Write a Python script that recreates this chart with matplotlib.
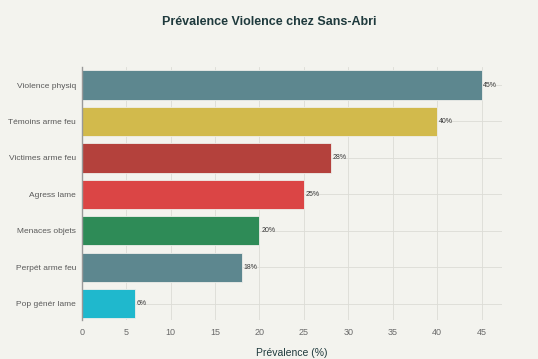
import numpy as np
import matplotlib.pyplot as plt

# Données ======================================================================
categories = ["Violence physiq", "Témoins arme feu", "Victimes arme feu",
              "Agress lame", "Menaces objets", "Perpét arme feu", "Pop génér lame"]
valeurs = [45, 40, 28, 25, 20, 18, 6]
couleurs = ["#5d878f", "#d2ba4c", "#b4413c", "#db4545", "#2e8b57", "#5d878f", "#1fb8cd"]

plt.rcParams['font.family'] = ['Liberation Sans', 'DejaVu Sans']
fond = "#f3f3ee"

fig = plt.figure(figsize=(5.38, 3.59), dpi=100, facecolor=fond)
ax = fig.add_axes([0.152, 0.109, 0.781, 0.704], facecolor=fond)

y = np.arange(len(categories))
ax.barh(y, valeurs, height=0.8, color=couleurs, edgecolor="#eeeeea", linewidth=0.6, zorder=3)
for yi, v in zip(y, valeurs):
    ax.text(v + 0.2, yi, f"{v}%", va="center", ha="left", fontsize=5, color="#3a3a3a", zorder=4)

ax.set_yticks(y)
ax.set_yticklabels(categories)
ax.set_ylim(len(categories) - 0.56, -0.49)
ax.set_xlim(0, 47.3)
ax.set_xticks(np.arange(0, 50, 5))

ax.grid(True, color="#dcdcd6", linewidth=0.6, zorder=0)
for s in ["top", "right", "bottom"]:
    ax.spines[s].set_visible(False)
ax.spines["left"].set_color("#999999")
ax.spines["left"].set_linewidth(1.0)
ax.spines["left"].set_zorder(5)
ax.tick_params(axis="y", length=0, labelsize=6, labelcolor="#5a5a5a", pad=4)
ax.tick_params(axis="x", length=0, labelsize=6.5, labelcolor="#6a6a6a", pad=6)

ax.set_xlabel("Prévalence (%)", fontsize=7.5, color="#1f3a3d", labelpad=8)
fig.suptitle("Prévalence Violence chez Sans-Abri", fontsize=9, fontweight="bold",
             color="#1f3a3d", y=0.955)

plt.savefig("out.png", dpi=100, facecolor=fond)
